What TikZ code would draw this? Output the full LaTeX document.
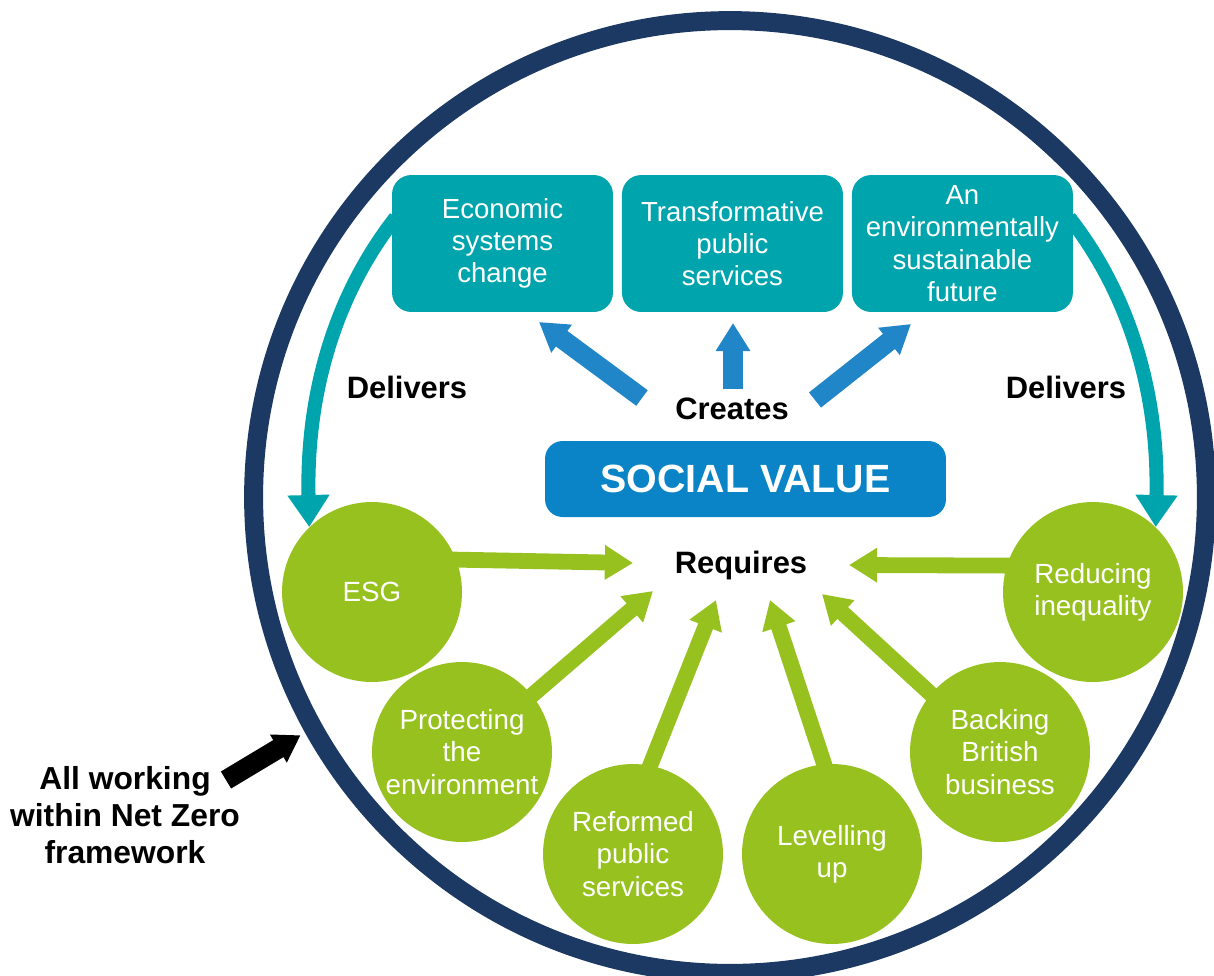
\documentclass[tikz,border=0pt]{standalone}
\usepackage{fontspec}
\setmainfont{Liberation Sans}
\usetikzlibrary{arrows.meta,backgrounds,positioning}

\definecolor{ringblue}{RGB}{27,57,99}
\definecolor{goalteal}{RGB}{0,164,173}
\definecolor{valueblue}{RGB}{10,132,198}
\definecolor{arrowblue}{RGB}{33,134,200}
\definecolor{needgreen}{RGB}{151,193,31}

\tikzstyle{goal} = [rectangle, rounded corners=11pt, fill=goalteal, text=white, minimum width=4.42cm, minimum height=2.74cm, inner sep=0pt, align=center, font=\fontsize{15.7}{18.4}\selectfont]
\tikzstyle{need} = [circle, fill=needgreen, text=white, minimum size=3.6cm, inner sep=0pt, align=center, font=\fontsize{15.8}{18.4}\selectfont]
\tikzstyle{verb} = [font=\bfseries\fontsize{17.6}{21}\selectfont]
\tikzstyle{valuebox} = [rectangle, rounded corners=10pt, fill=valueblue, text=white, minimum width=8.02cm, minimum height=1.52cm, font=\bfseries\fontsize{22.4}{26}\selectfont]
\tikzstyle{ring} = [circle, draw=ringblue, line width=10.8pt, minimum size=19.06cm, inner sep=0pt]
\tikzstyle{delivers} = [draw=goalteal, line width=8pt, -{Triangle[width=22.8pt,length=18.2pt]}]
\tikzstyle{creates} = [draw=arrowblue, line width=11pt, -{Triangle[width=18.7pt,length=16pt]}]
\tikzstyle{requires} = [draw=needgreen, line width=9pt, shorten <=-10pt, -{Triangle[width=18.7pt,length=16pt]}]
\tikzstyle{pointer} = [draw=black, line width=11.3pt, shorten >=3pt, -{Triangle[width=17.6pt,length=14.7pt]}]

\begin{document}
\begin{tikzpicture}[x=0.02cm,y=-0.02cm,node distance=4.6cm]
	\useasboundingbox (0,0) rectangle (1214,975);

	% the net zero frame round everything
	\begin{scope}
		\clip (0,0) rectangle (1214,975);
		\node [ring] (frame) at (730,497) {};
	\end{scope}

	% what social value creates
	\node [goal] (econ) at (502.5,243.5) {Economic\\systems\\change};
	\node [goal,right of=econ] (trans) {Transformative\\public\\services};
	\node [goal,right of=trans] (env) {An\\environmentally\\sustainable\\future};

	% centre labels
	\node [verb] (creates) at (732,409) {Creates};
	\node [valuebox] (sv) at (745.5,479) {SOCIAL VALUE};
	\node [verb] (req) at (741,565) {Requires};
	\node [verb] (delL) at (407,387) {Delivers};
	\node [verb] (delR) at (1066,387) {Delivers};

	% what social value requires
	\node [need] (esg) at (372,592) {ESG};
	\node [need] (prot) at (462,752) {Protecting\\the\\environment};
	\node [need] (ref) at (633,854) {Reformed\\public\\services};
	\node [need] (lev) at (832,854) {Levelling\\up};
	\node [need] (back) at (1000,752) {Backing\\British\\business};
	\node [need] (red) at (1093,592) {Reducing\\inequality};

	\node [verb,align=center,font=\bfseries\fontsize{18.1}{21}\selectfont] (nz) at (125,815) {All working\\within Net Zero\\framework};

	% free arrow ends
	\node[coordinate] (c1) at (642,398) {};
	\node[coordinate] (c2) at (733,389) {};
	\node[coordinate] (c3) at (815,400) {};
	\node[coordinate] (e1) at (539,322) {};
	\node[coordinate] (e2) at (733,323) {};
	\node[coordinate] (e3) at (911,324) {};
	\node[coordinate] (r1) at (633,563) {};
	\node[coordinate] (r2) at (653,591) {};
	\node[coordinate] (r3) at (716,600) {};
	\node[coordinate] (r4) at (770,600) {};
	\node[coordinate] (r5) at (822,594) {};
	\node[coordinate] (r6) at (849,565) {};
	\node[coordinate] (nzt) at (226,780) {};

	% creates
	\draw [creates] (c1) -- (e1);
	\draw [creates] (c2) -- (e2);
	\draw [creates] (c3) -- (e3);

	\begin{scope}[on background layer]
		% delivers
		\draw [delivers] ([shift={(4,-26)}]econ.west) .. controls +(-64,82) and +(-3,-127) .. (esg.134);
		\draw [delivers] ([shift={(-4,-26)}]env.east) .. controls +(64,82) and +(3,-127) .. (red.46);

		% requires
		\draw [requires] (esg.21) -- (r1);
		\draw [requires] (prot.39) -- (r2);
		\draw [requires] (ref.79) -- (r3);
		\draw [requires] (lev.95) -- (r4);
		\draw [requires] (back.140) -- (r5);
		\draw [requires] (red.163) -- (r6);
	\end{scope}

	% net zero pointer
	\draw [pointer] (nzt) -- (frame.209);

\end{tikzpicture}
\end{document}
